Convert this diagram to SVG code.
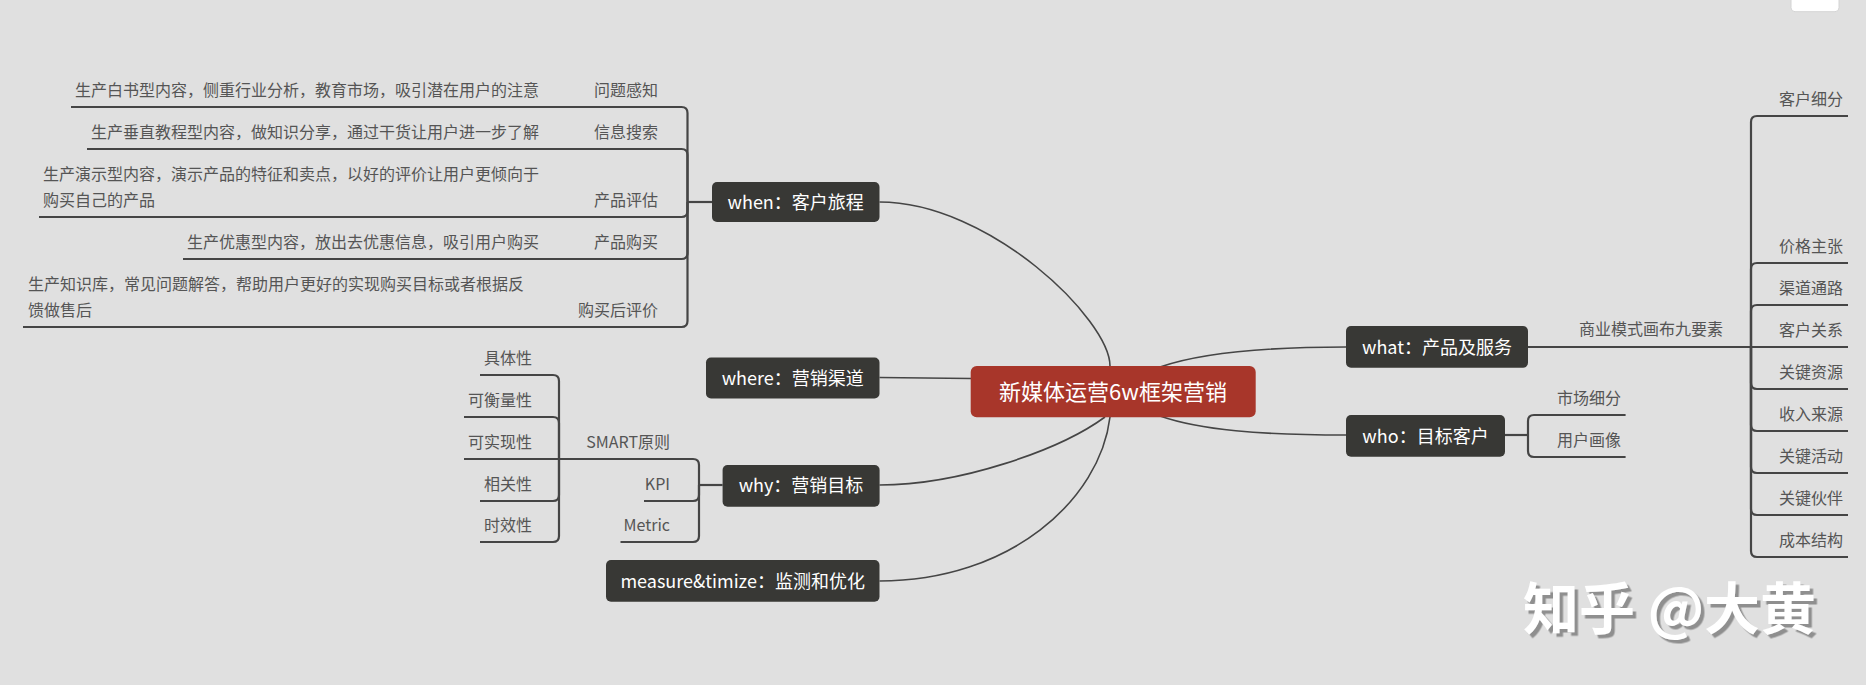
<svg xmlns="http://www.w3.org/2000/svg" width="1866" height="685" viewBox="0 0 1866 685">
<defs>
<style>
.bg{fill:#e0e0e0}
.node{fill:#383835}
.center{fill:#a8362a}
.nt{font-family:"Noto Sans CJK SC","Noto Sans",sans-serif;font-size:18px;fill:#ffffff;text-anchor:middle}
.ct{font-family:"Noto Sans CJK SC","Noto Sans",sans-serif;font-size:22px;fill:#ffffff;text-anchor:middle}
.lb{font-family:"Noto Sans CJK SC","Noto Sans",sans-serif;font-size:16px;fill:#555555}
.end{text-anchor:end}
.br{fill:none;stroke:#454545;stroke-width:2.2}
.cv{fill:none;stroke:#454545;stroke-width:1.6}
.wm{font-family:"Noto Sans CJK SC","Noto Sans",sans-serif;font-size:56px;font-weight:bold;fill:#ffffff}
</style>
<filter id="wmShadow" x="-10%" y="-20%" width="120%" height="150%">
  <feDropShadow dx="3.5" dy="3.5" stdDeviation="0.6" flood-color="#8f8f8f" flood-opacity="1"/>
</filter>
</defs>
<rect class="bg" x="0" y="0" width="1866" height="685"/>
<rect x="1791" y="-6" width="48" height="17.7" rx="4" fill="#ffffff" stroke="#d4d4d4" stroke-width="1"/>

<g id="connectors">
  <path class="cv" d="M1110 366 C1110 320 990 202 879.5 202"/>
  <path class="cv" d="M879.5 377.5 L971 378.5"/>
  <path class="cv" d="M1105 417 C1060 450 960 485 879.5 485"/>
  <path class="cv" d="M1110 417 C1100 500 1010 581 879.5 581"/>
  <path class="cv" d="M1160 367 C1200 353 1260 347 1346 347"/>
  <path class="cv" d="M1160 416 C1200 430 1260 435 1346 435"/>

  <path class="br" d="M712 202 H687.5"/>
  <path class="br" d="M687.5 202 V113 Q687.5 107 681.5 107 H71"/>
  <path class="br" d="M687.5 202 V155 Q687.5 149 681.5 149 H87"/>
  <path class="br" d="M687.5 202 V211 Q687.5 217 681.5 217 H39"/>
  <path class="br" d="M687.5 202 V253 Q687.5 259 681.5 259 H183"/>
  <path class="br" d="M687.5 202 V321 Q687.5 327 681.5 327 H23"/>

  <path class="br" d="M722.6 485 H699"/>
  <path class="br" d="M699 485 V465 Q699 459 693 459 H464"/>
  <path class="br" d="M699 485 V495 Q699 501 693 501 H644"/>
  <path class="br" d="M699 485 V536 Q699 542 693 542 H620.5"/>
  <path class="br" d="M559 459 V381 Q559 375 553 375 H480"/>
  <path class="br" d="M559 459 V423 Q559 417 553 417 H464"/>
  <path class="br" d="M559 459 V495 Q559 501 553 501 H480"/>
  <path class="br" d="M559 459 V536 Q559 542 553 542 H480"/>

  <path class="br" d="M1528 347 H1848"/>
  <path class="br" d="M1751 347 V122 Q1751 116 1757 116 H1848"/>
  <path class="br" d="M1751 347 V269 Q1751 263 1757 263 H1848"/>
  <path class="br" d="M1751 347 V311 Q1751 305 1757 305 H1848"/>
  <path class="br" d="M1751 347 V383 Q1751 389 1757 389 H1848"/>
  <path class="br" d="M1751 347 V425 Q1751 431 1757 431 H1848"/>
  <path class="br" d="M1751 347 V467 Q1751 473 1757 473 H1848"/>
  <path class="br" d="M1751 347 V509 Q1751 515 1757 515 H1848"/>
  <path class="br" d="M1751 347 V551 Q1751 557 1757 557 H1848"/>

  <path class="br" d="M1505 435 H1528"/>
  <path class="br" d="M1528 435 V421 Q1528 415 1534 415 H1625.6"/>
  <path class="br" d="M1528 435 V451 Q1528 457 1534 457 H1625.6"/>
</g>

<g id="center">
  <rect class="center" x="970.7" y="366" width="285" height="51.3" rx="6"/>
  <text class="ct" x="1113" y="399.5">新媒体运营6w框架营销</text>
</g>
<g id="when">
  <rect class="node" x="712" y="182" width="167.5" height="40" rx="5"/>
  <text class="nt" x="795.7" y="208.5">when：客户旅程</text>
</g>
<g id="where">
  <rect class="node" x="706" y="357.5" width="173.5" height="41" rx="5"/>
  <text class="nt" x="792.7" y="384.5">where：营销渠道</text>
</g>
<g id="why">
  <rect class="node" x="722.6" y="465" width="157" height="41.7" rx="5"/>
  <text class="nt" x="801" y="492">why：营销目标</text>
</g>
<g id="measure">
  <rect class="node" x="606" y="560" width="273.5" height="41.7" rx="5"/>
  <text class="nt" x="742.7" y="587.5">measure&amp;timize：监测和优化</text>
</g>
<g id="what">
  <rect class="node" x="1346" y="326" width="182" height="41.7" rx="5"/>
  <text class="nt" x="1437" y="353.5">what：产品及服务</text>
</g>
<g id="who">
  <rect class="node" x="1346" y="415" width="159" height="41.7" rx="5"/>
  <text class="nt" x="1425.5" y="442.5">who：目标客户</text>
</g>

<g id="when-children">
  <text class="lb end" x="658" y="95.5">问题感知</text>
  <text class="lb end" x="539" y="95.5">生产白书型内容，侧重行业分析，教育市场，吸引潜在用户的注意</text>
  <text class="lb end" x="658" y="137.5">信息搜索</text>
  <text class="lb end" x="539" y="137.5">生产垂直教程型内容，做知识分享，通过干货让用户进一步了解</text>
  <text class="lb end" x="658" y="205.5">产品评估</text>
  <text class="lb" x="43" y="179.5">生产演示型内容，演示产品的特征和卖点，以好的评价让用户更倾向于</text>
  <text class="lb" x="43" y="205.5">购买自己的产品</text>
  <text class="lb end" x="658" y="247.5">产品购买</text>
  <text class="lb end" x="539" y="247.5">生产优惠型内容，放出去优惠信息，吸引用户购买</text>
  <text class="lb end" x="658" y="315.5">购买后评价</text>
  <text class="lb" x="28" y="290">生产知识库，常见问题解答，帮助用户更好的实现购买目标或者根据反</text>
  <text class="lb" x="28" y="315.5">馈做售后</text>
</g>

<g id="why-children">
  <text class="lb end" x="670" y="447.5">SMART原则</text>
  <text class="lb end" x="670" y="489.5">KPI</text>
  <text class="lb end" x="670" y="530.5">Metric</text>
  <text class="lb end" x="532" y="363.5">具体性</text>
  <text class="lb end" x="532" y="405.5">可衡量性</text>
  <text class="lb end" x="532" y="447.5">可实现性</text>
  <text class="lb end" x="532" y="489.5">相关性</text>
  <text class="lb end" x="532" y="530.5">时效性</text>
</g>

<g id="what-children">
  <text class="lb" x="1579" y="335">商业模式画布九要素</text>
  <text class="lb" x="1779" y="104.5">客户细分</text>
  <text class="lb" x="1779" y="251.5">价格主张</text>
  <text class="lb" x="1779" y="293.5">渠道通路</text>
  <text class="lb" x="1779" y="335.5">客户关系</text>
  <text class="lb" x="1779" y="377.5">关键资源</text>
  <text class="lb" x="1779" y="419.5">收入来源</text>
  <text class="lb" x="1779" y="461.5">关键活动</text>
  <text class="lb" x="1779" y="503.5">关键伙伴</text>
  <text class="lb" x="1779" y="545.5">成本结构</text>
</g>

<g id="who-children">
  <text class="lb" x="1557" y="403.5">市场细分</text>
  <text class="lb" x="1557" y="445.5">用户画像</text>
</g>

<g id="watermark">
  <text class="wm" x="1523" y="629" filter="url(#wmShadow)">知乎 @大黄</text>
</g>
</svg>
